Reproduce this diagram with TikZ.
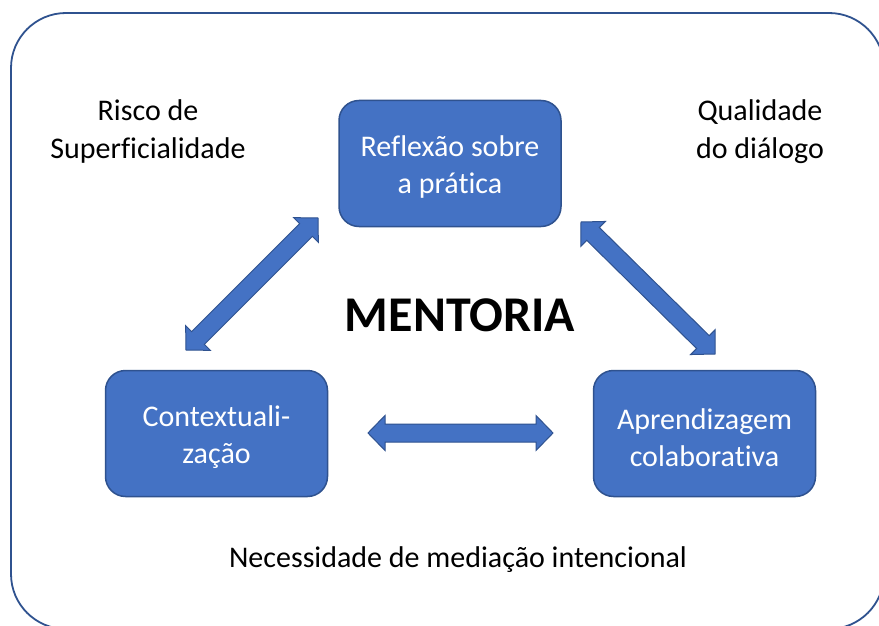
\documentclass[tikz,border=0pt]{standalone}
\usepackage{fontspec}
\setmainfont[Ligatures=NoCommon]{Carlito}
\usetikzlibrary{calc}
\definecolor{boxfill}{HTML}{4472C4}
\definecolor{boxline}{HTML}{2F528F}
\newcommand\blockarrow[2]{%
  \coordinate (#1#2ha) at ($(#1)!17pt!(#2)$);
  \coordinate (#1#2hb) at ($(#2)!17pt!(#1)$);
  \draw[blockarr] (#1)
    -- ($(#1#2ha)!17.5pt!90:(#2)$) -- ($(#1#2ha)!9pt!90:(#2)$)
    -- ($(#1#2hb)!9pt!-90:(#1)$) -- ($(#1#2hb)!17.5pt!-90:(#1)$)
    -- (#2)
    -- ($(#1#2hb)!17.5pt!90:(#1)$) -- ($(#1#2hb)!9pt!90:(#1)$)
    -- ($(#1#2ha)!9pt!-90:(#2)$) -- ($(#1#2ha)!17.5pt!-90:(#2)$)
    -- cycle;}
\tikzset{
  mainbox/.style={draw=boxline, line width=1.5pt, fill=boxfill, rounded corners=20pt,
    minimum width=222pt, minimum height=126pt},
  boxtext/.style={text=white, align=center, yshift=-4pt,
    font=\fontsize{30}{37}\selectfont},
  plainlabel/.style={align=center, text=black, font=\fontsize{30}{38}\selectfont},
  blockarr/.style={draw=boxline, line width=1pt, fill=boxfill, line join=miter},
}
\begin{document}
\begin{tikzpicture}[x=1pt,y=-1pt]
\useasboundingbox (0,0) rectangle (879,626);
\clip (0,0) rectangle (879,626);
\fill[white] (0,0) rectangle (879,626);
\draw[boxline, line width=1.8pt, rounded corners=55pt] (11,13) rectangle (884,629);

\node[mainbox, label={[boxtext]center:{Reflexão sobre\\a prática}}] (refl) at (450,163.5) {};
\node[mainbox, label={[boxtext]center:{Contextuali-\\zação}}] (cont) at (216.5,433.5) {};
\node[mainbox, label={[boxtext]center:{Aprendizagem\\colaborativa}}] (apre) at (704.5,433.5) {};

\node[plainlabel] (risco) at (148,132) {Risco de\\Superficialidade};
\node[plainlabel] (quali) at (760,132) {Qualidade\\do diálogo};
\node[font=\fontsize{50}{60}\selectfont\bfseries] (ment) at (460,315) {MENTORIA};
\node[plainlabel] (nece) at (458,560) {Necessidade de mediação intencional};

\coordinate (l1) at (186,350);
\coordinate (l2) at (318,218);
\coordinate (r1) at (581,222);
\coordinate (r2) at (715,354);
\coordinate (h1) at (368,433);
\coordinate (h2) at (553,433);
\blockarrow{l1}{l2}
\blockarrow{r1}{r2}
\blockarrow{h1}{h2}
\end{tikzpicture}
\end{document}
